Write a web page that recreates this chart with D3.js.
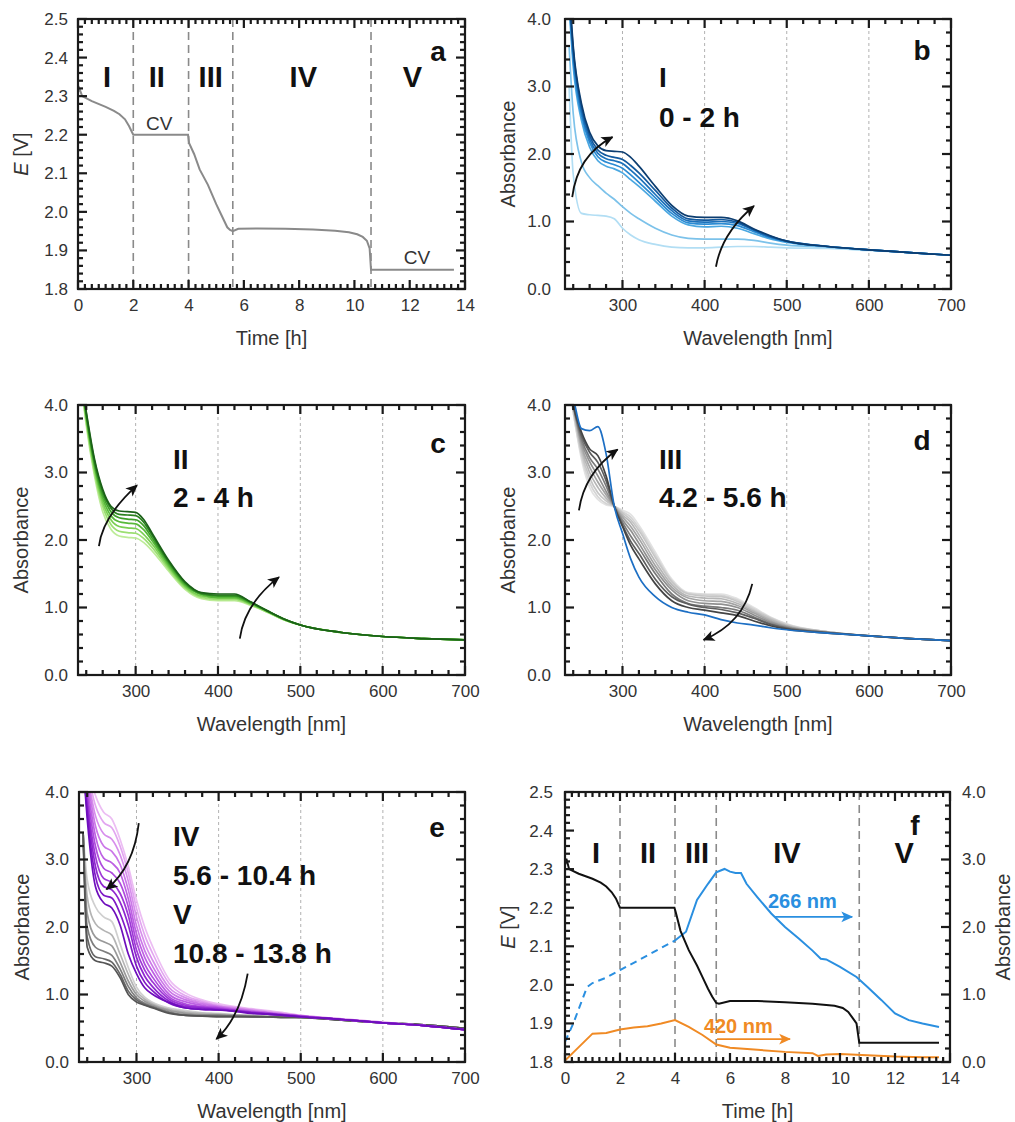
<!DOCTYPE html>
<html>
<head>
<meta charset="utf-8">
<script src="https://d3js.org/d3.v7.min.js"></script>
<style>
  body { margin: 0; background: #fff; }
  text { font-family: "Liberation Sans", Arial, sans-serif; }
</style>
</head>
<body>
<script>
// ---------------------------------------------------------------- data
// panel a / f : potential vs time
const tA = [0, 0.05, 0.15, 0.5, 1.0, 1.3, 1.5, 1.7, 1.85, 1.95, 2.0, 3.0, 3.98, 4.02, 4.2, 4.4, 4.7, 5.0, 5.2, 5.4, 5.5, 5.6, 5.8, 6.5, 7.5, 8.5, 9.3, 9.8, 10.1, 10.3, 10.45, 10.55, 10.6, 11.5, 12.5, 13.6];
const eA = [2.31, 2.32, 2.30, 2.287, 2.272, 2.262, 2.253, 2.24, 2.222, 2.207, 2.20, 2.20, 2.20, 2.178, 2.15, 2.11, 2.07, 2.02, 1.99, 1.96, 1.953, 1.95, 1.956, 1.957, 1.956, 1.954, 1.951, 1.947, 1.942, 1.935, 1.925, 1.905, 1.85, 1.85, 1.85, 1.85];
const stepsA = [2, 4, 5.6, 10.6];

const tF = [0, 0.05, 0.15, 0.5, 1.0, 1.3, 1.5, 1.7, 1.85, 1.95, 2.0, 3.0, 3.98, 4.02, 4.2, 4.5, 4.8, 5.0, 5.2, 5.35, 5.5, 5.6, 6.0, 7.0, 8.0, 9.0, 9.8, 10.1, 10.3, 10.45, 10.6, 10.7, 11.5, 12.5, 13.6];
const eF = [2.31, 2.327, 2.30, 2.288, 2.275, 2.265, 2.255, 2.24, 2.224, 2.208, 2.20, 2.20, 2.20, 2.19, 2.14, 2.09, 2.05, 2.02, 1.99, 1.97, 1.953, 1.951, 1.958, 1.958, 1.955, 1.951, 1.946, 1.94, 1.93, 1.915, 1.90, 1.85, 1.85, 1.85, 1.85];
const stepsF = [2, 4, 5.5, 10.7];

// absorbance at 266 nm (dashed part, then solid) and 420 nm
const t266d = [0, 0.3, 0.8, 1.0, 1.5, 2.0, 3.0, 4.0];
const a266d = [0.30, 0.57, 1.11, 1.17, 1.25, 1.36, 1.58, 1.80];
const t266 = [4.0, 4.4, 4.8, 5.2, 5.5, 5.8, 6.0, 6.2, 6.4, 6.6, 7.0, 7.5, 8.0, 8.5, 9.0, 9.3, 9.5, 10.0, 10.6, 11.0, 11.5, 12.0, 12.5, 13.0, 13.6];
const a266 = [1.80, 1.93, 2.40, 2.64, 2.81, 2.86, 2.82, 2.80, 2.80, 2.64, 2.44, 2.20, 2.00, 1.83, 1.65, 1.53, 1.52, 1.41, 1.26, 1.11, 0.92, 0.72, 0.62, 0.57, 0.52];
const t420 = [0, 0.5, 1.0, 1.5, 2.0, 2.5, 3.0, 3.5, 4.0, 4.5, 5.0, 5.5, 6.0, 7.0, 8.0, 9.0, 9.2, 9.5, 10.0, 11.0, 12.0, 13.0, 13.6];
const a420 = [0.02, 0.22, 0.42, 0.43, 0.48, 0.51, 0.53, 0.57, 0.62, 0.52, 0.40, 0.26, 0.21, 0.18, 0.15, 0.13, 0.09, 0.11, 0.12, 0.10, 0.08, 0.07, 0.07];

const stages = ["I", "II", "III", "IV", "V"];

// spectra: shared wavelength grid
const wl = [235, 240, 250, 260, 270, 280, 290, 300, 310, 320, 340, 360, 380, 400, 420, 440, 460, 480, 500, 550, 600, 650, 700];

// panel b, stage I (light -> dark)
const b1 = [3.0, 1.7, 1.12, 1.10, 1.09, 1.08, 1.04, 0.90, 0.80, 0.73, 0.66, 0.62, 0.61, 0.61, 0.62, 0.63, 0.63, 0.62, 0.61, 0.60, 0.57, 0.54, 0.50];
const b2 = [3.6, 2.6, 1.88, 1.65, 1.53, 1.42, 1.33, 1.22, 1.12, 1.04, 0.90, 0.80, 0.75, 0.74, 0.74, 0.74, 0.72, 0.68, 0.65, 0.62, 0.58, 0.54, 0.50];
const b3 = [4.2, 3.3, 2.50, 2.10, 1.90, 1.82, 1.78, 1.72, 1.62, 1.52, 1.30, 1.08, 0.95, 0.92, 0.93, 0.90, 0.82, 0.74, 0.69, 0.63, 0.58, 0.54, 0.50];
const b4 = [4.3, 3.4, 2.58, 2.17, 1.96, 1.88, 1.84, 1.79, 1.69, 1.58, 1.35, 1.12, 0.98, 0.96, 0.97, 0.94, 0.85, 0.76, 0.70, 0.63, 0.58, 0.54, 0.50];
const b5 = [4.35, 3.5, 2.64, 2.22, 2.01, 1.93, 1.90, 1.86, 1.76, 1.65, 1.40, 1.16, 1.01, 0.99, 1.00, 0.97, 0.87, 0.77, 0.71, 0.63, 0.58, 0.54, 0.50];
const b6 = [4.4, 3.55, 2.70, 2.27, 2.06, 1.98, 1.95, 1.92, 1.83, 1.72, 1.46, 1.20, 1.04, 1.02, 1.03, 0.99, 0.88, 0.78, 0.71, 0.63, 0.58, 0.54, 0.50];
const b7 = [4.5, 3.6, 2.75, 2.32, 2.12, 2.05, 2.04, 2.03, 1.95, 1.82, 1.52, 1.24, 1.08, 1.06, 1.06, 1.01, 0.89, 0.79, 0.71, 0.63, 0.58, 0.54, 0.50];

// panel c, stage II
const c1 = [4.2, 3.7, 2.95, 2.42, 2.16, 2.06, 2.04, 2.03, 1.96, 1.84, 1.54, 1.27, 1.13, 1.10, 1.10, 1.03, 0.93, 0.82, 0.74, 0.63, 0.57, 0.54, 0.52];
const c2 = [4.2, 3.75, 3.0, 2.50, 2.23, 2.13, 2.11, 2.10, 2.02, 1.89, 1.57, 1.29, 1.15, 1.12, 1.12, 1.04, 0.93, 0.82, 0.74, 0.63, 0.57, 0.54, 0.52];
const c3 = [4.25, 3.8, 3.05, 2.56, 2.30, 2.20, 2.18, 2.17, 2.08, 1.94, 1.60, 1.31, 1.17, 1.14, 1.14, 1.05, 0.94, 0.82, 0.74, 0.63, 0.57, 0.54, 0.52];
const c4 = [4.25, 3.82, 3.1, 2.62, 2.36, 2.27, 2.25, 2.24, 2.15, 1.99, 1.63, 1.33, 1.19, 1.15, 1.15, 1.06, 0.94, 0.83, 0.74, 0.63, 0.57, 0.54, 0.52];
const c5 = [4.3, 3.85, 3.13, 2.67, 2.42, 2.33, 2.31, 2.30, 2.21, 2.03, 1.66, 1.35, 1.20, 1.17, 1.17, 1.07, 0.95, 0.83, 0.74, 0.63, 0.57, 0.54, 0.52];
const c6 = [4.3, 3.88, 3.17, 2.72, 2.47, 2.38, 2.37, 2.36, 2.26, 2.07, 1.68, 1.37, 1.21, 1.18, 1.18, 1.08, 0.95, 0.83, 0.74, 0.63, 0.57, 0.54, 0.52];
const c7 = [4.3, 3.9, 3.2, 2.75, 2.50, 2.43, 2.42, 2.41, 2.30, 2.10, 1.70, 1.38, 1.22, 1.20, 1.20, 1.08, 0.95, 0.83, 0.74, 0.63, 0.57, 0.54, 0.52];

// panel d, stage III (grey light -> dark, then final blue)
const dG1 = [4.3, 3.9, 3.2, 2.78, 2.60, 2.52, 2.50, 2.44, 2.38, 2.22, 1.82, 1.42, 1.22, 1.20, 1.20, 1.13, 1.00, 0.86, 0.76, 0.64, 0.58, 0.54, 0.51];
const dG2 = [4.3, 3.9, 3.25, 2.85, 2.64, 2.54, 2.50, 2.42, 2.34, 2.18, 1.78, 1.40, 1.21, 1.19, 1.18, 1.11, 0.98, 0.85, 0.75, 0.64, 0.58, 0.54, 0.51];
const dG3 = [4.3, 3.95, 3.3, 2.92, 2.70, 2.58, 2.50, 2.40, 2.30, 2.14, 1.74, 1.38, 1.20, 1.17, 1.16, 1.09, 0.96, 0.84, 0.74, 0.64, 0.58, 0.54, 0.51];
const dG4 = [4.3, 3.95, 3.35, 3.0, 2.78, 2.62, 2.50, 2.37, 2.26, 2.08, 1.68, 1.34, 1.17, 1.14, 1.13, 1.06, 0.94, 0.82, 0.73, 0.64, 0.58, 0.54, 0.51];
const dG5 = [4.3, 4.0, 3.4, 3.08, 2.86, 2.67, 2.50, 2.34, 2.20, 2.02, 1.62, 1.30, 1.14, 1.10, 1.09, 1.03, 0.92, 0.80, 0.72, 0.63, 0.58, 0.54, 0.51];
const dG6 = [4.3, 4.0, 3.45, 3.16, 2.95, 2.72, 2.50, 2.30, 2.14, 1.95, 1.56, 1.26, 1.10, 1.06, 1.05, 1.00, 0.89, 0.78, 0.71, 0.63, 0.58, 0.54, 0.51];
const dG7 = [4.3, 4.0, 3.5, 3.22, 3.05, 2.80, 2.50, 2.26, 2.06, 1.88, 1.50, 1.20, 1.06, 1.02, 1.00, 0.96, 0.86, 0.76, 0.70, 0.63, 0.58, 0.54, 0.51];
const dG8 = [4.3, 4.0, 3.55, 3.30, 3.15, 2.88, 2.50, 2.22, 1.98, 1.80, 1.42, 1.16, 1.05, 1.00, 0.97, 0.92, 0.84, 0.75, 0.69, 0.63, 0.58, 0.54, 0.51];
const dG9 = [4.3, 4.0, 3.6, 3.35, 3.25, 2.95, 2.50, 2.20, 1.92, 1.72, 1.35, 1.10, 1.00, 0.96, 0.92, 0.88, 0.80, 0.73, 0.68, 0.62, 0.58, 0.54, 0.51];
const dBlue = [4.3, 4.1, 3.65, 3.62, 3.68, 3.28, 2.50, 2.10, 1.72, 1.45, 1.16, 1.00, 0.93, 0.89, 0.82, 0.77, 0.74, 0.70, 0.67, 0.62, 0.58, 0.54, 0.51];

// panel e, stage IV (purple light -> dark) and stage V (grey light -> dark)
const ep1 = [4.5, 4.4, 3.95, 3.70, 3.60, 3.30, 2.90, 2.40, 2.00, 1.70, 1.22, 1.02, 0.92, 0.86, 0.82, 0.79, 0.76, 0.73, 0.69, 0.64, 0.59, 0.54, 0.48];
const ep2 = [4.5, 4.3, 3.8, 3.55, 3.47, 3.20, 2.80, 2.28, 1.88, 1.60, 1.16, 0.98, 0.90, 0.84, 0.81, 0.78, 0.75, 0.72, 0.69, 0.64, 0.59, 0.54, 0.48];
const ep3 = [4.5, 4.25, 3.65, 3.38, 3.30, 3.07, 2.68, 2.15, 1.76, 1.50, 1.10, 0.95, 0.88, 0.83, 0.80, 0.77, 0.74, 0.71, 0.68, 0.63, 0.58, 0.54, 0.48];
const ep4 = [4.5, 4.2, 3.5, 3.20, 3.12, 2.93, 2.55, 2.02, 1.65, 1.41, 1.05, 0.92, 0.86, 0.82, 0.79, 0.76, 0.73, 0.71, 0.68, 0.63, 0.58, 0.54, 0.48];
const ep5 = [4.5, 4.1, 3.35, 3.02, 2.95, 2.80, 2.42, 1.90, 1.55, 1.33, 1.00, 0.89, 0.84, 0.81, 0.78, 0.75, 0.73, 0.70, 0.68, 0.63, 0.58, 0.54, 0.48];
const ep6 = [4.5, 4.0, 3.2, 2.87, 2.80, 2.65, 2.30, 1.78, 1.45, 1.25, 0.96, 0.86, 0.82, 0.80, 0.77, 0.74, 0.72, 0.70, 0.68, 0.63, 0.58, 0.54, 0.48];
const ep7 = [4.5, 3.9, 3.05, 2.72, 2.66, 2.50, 2.17, 1.66, 1.36, 1.18, 0.93, 0.84, 0.81, 0.79, 0.76, 0.74, 0.72, 0.70, 0.68, 0.63, 0.58, 0.54, 0.48];
const ep8 = [4.4, 3.8, 2.9, 2.60, 2.55, 2.37, 2.03, 1.55, 1.27, 1.11, 0.90, 0.82, 0.80, 0.78, 0.76, 0.73, 0.71, 0.69, 0.67, 0.63, 0.58, 0.54, 0.48];
const ep9 = [4.4, 3.7, 2.75, 2.47, 2.43, 2.20, 1.85, 1.42, 1.18, 1.05, 0.87, 0.80, 0.78, 0.77, 0.75, 0.73, 0.71, 0.69, 0.67, 0.63, 0.58, 0.54, 0.48];
const ep10 = [4.4, 3.6, 2.6, 2.36, 2.28, 2.03, 1.60, 1.31, 1.10, 1.00, 0.88, 0.80, 0.78, 0.77, 0.75, 0.72, 0.71, 0.69, 0.67, 0.63, 0.58, 0.54, 0.48];
const eg1 = [3.4, 2.7, 2.30, 2.15, 2.08, 1.75, 1.40, 1.11, 0.96, 0.88, 0.80, 0.76, 0.73, 0.72, 0.70, 0.69, 0.68, 0.67, 0.66, 0.62, 0.58, 0.55, 0.50];
const eg2 = [3.4, 2.45, 2.05, 1.95, 1.88, 1.60, 1.30, 1.05, 0.93, 0.86, 0.78, 0.74, 0.72, 0.71, 0.70, 0.69, 0.68, 0.67, 0.66, 0.62, 0.58, 0.55, 0.50];
const eg3 = [3.4, 2.2, 1.85, 1.78, 1.72, 1.48, 1.20, 1.00, 0.90, 0.84, 0.76, 0.72, 0.70, 0.70, 0.69, 0.68, 0.67, 0.67, 0.66, 0.62, 0.58, 0.55, 0.50];
const eg4 = [3.4, 2.0, 1.70, 1.64, 1.58, 1.38, 1.12, 0.95, 0.87, 0.82, 0.74, 0.70, 0.69, 0.69, 0.68, 0.68, 0.67, 0.66, 0.66, 0.62, 0.58, 0.55, 0.50];
const eg5 = [3.4, 1.85, 1.56, 1.53, 1.48, 1.30, 1.05, 0.92, 0.85, 0.81, 0.73, 0.69, 0.68, 0.68, 0.68, 0.67, 0.67, 0.66, 0.66, 0.62, 0.58, 0.55, 0.50];
const eg6 = [3.4, 1.7, 1.50, 1.47, 1.42, 1.25, 1.00, 0.89, 0.84, 0.80, 0.72, 0.69, 0.68, 0.67, 0.67, 0.67, 0.67, 0.66, 0.66, 0.62, 0.58, 0.55, 0.50];

// tick labels
const timeTicks = [0, 2, 4, 6, 8, 10, 12, 14];
const eTicks = [1.8, 1.9, 2.0, 2.1, 2.2, 2.3, 2.4, 2.5];
const wlTicks = [300, 400, 500, 600, 700];
const absTicks = [0, 1, 2, 3, 4];

// ---------------------------------------------------------------- drawing
const svg = d3.select("body").append("svg").attr("width", 1015).attr("height", 1122);
const defs = svg.append("defs");

function marker(id, color) {
  defs.append("marker").attr("id", id)
    .attr("viewBox", "0 0 10 10").attr("refX", 9).attr("refY", 5)
    .attr("markerUnits", "userSpaceOnUse")
    .attr("markerWidth", 12).attr("markerHeight", 12)
    .attr("orient", "auto")
    .append("path").attr("d", "M0,0.5L10,5L0,9.5L2.5,5Z").attr("fill", color);
}
marker("ahK", "#111");
marker("ahB", "#2a8fe0");
marker("ahO", "#f08a24");

let nClip = 0;
function makePanel(box, xDom, yDom) {
  const x = d3.scaleLinear().domain(xDom).range([box.x0, box.x1]);
  const y = d3.scaleLinear().domain(yDom).range([box.y1, box.y0]);
  const id = "clip" + nClip++;
  defs.append("clipPath").attr("id", id).append("rect")
    .attr("x", box.x0).attr("y", box.y0)
    .attr("width", box.x1 - box.x0).attr("height", box.y1 - box.y0);
  const g = svg.append("g");
  const under = g.append("g");
  const plot = g.append("g").attr("clip-path", `url(#${id})`);
  return { x, y, box, g, under, plot };
}

function minors(lo, hi, step, majors) {
  return d3.range(lo, hi + step / 2, step)
    .map(v => +v.toFixed(4))
    .filter(v => !majors.some(m => Math.abs(m - v) < 1e-6));
}

// inward tick marks along one side of the frame, drawn as small filled rects
function tickMarks(g, box, side, scale, vals, len) {
  const w = 2.2;
  const horiz = side === "bottom" || side === "top";
  g.append("g").selectAll("rect").data(vals).join("rect")
    .attr("x", d => horiz ? scale(d) - w / 2 : (side === "left" ? box.x0 : box.x1 - len))
    .attr("y", d => horiz ? (side === "top" ? box.y0 : box.y1 - len) : scale(d) - w / 2)
    .attr("width", horiz ? w : len)
    .attr("height", horiz ? len : w)
    .attr("fill", "#1a1a1a");
}

function axes(p, o) {
  const { x, y, box, g } = p;
  const ag = g.append("g");
  const add = (axis, tr) => ag.append("g").attr("transform", tr).call(axis)
    .call(s => s.select(".domain").remove())
    .call(s => s.selectAll(".tick line").remove())
    .attr("font-family", null).attr("font-size", null);
  const xMin = minors(o.xLo, x.domain()[1], o.xStep, o.xMajor);
  const yMin = minors(y.domain()[0], y.domain()[1], o.yStep, o.yMajor);
  const MJ = 9, MN = 5;

  add(d3.axisBottom(x).tickValues(o.xMajor).tickSize(0).tickPadding(10).tickFormat(o.xFmt), `translate(0,${box.y1})`);
  add(d3.axisLeft(y).tickValues(o.yMajor).tickSize(0).tickPadding(o.yPad).tickFormat(o.yFmt), `translate(${box.x0},0)`);
  if (o.right) {
    add(d3.axisRight(o.right.scale).tickValues(o.right.major).tickSize(0).tickPadding(12).tickFormat(o.right.fmt), `translate(${box.x1},0)`);
  }
  ag.selectAll(".tick text").attr("font-size", 17).attr("fill", "#333");

  g.append("rect").attr("x", box.x0).attr("y", box.y0)
    .attr("width", box.x1 - box.x0).attr("height", box.y1 - box.y0)
    .attr("fill", "none").attr("stroke", "#1a1a1a").attr("stroke-width", 2.2);

  // tick marks on all four sides
  const tg = g.append("g");
  tickMarks(tg, box, "bottom", x, o.xMajor, MJ);
  tickMarks(tg, box, "bottom", x, xMin, MN);
  tickMarks(tg, box, "top", x, o.xMajor, MJ);
  tickMarks(tg, box, "top", x, xMin, MN);
  tickMarks(tg, box, "left", y, o.yMajor, MJ);
  tickMarks(tg, box, "left", y, yMin, MN);
  if (o.right) {
    const r = o.right;
    const rMin = minors(r.scale.domain()[0], r.scale.domain()[1], r.step, r.major);
    tickMarks(tg, box, "right", r.scale, r.major, MJ);
    tickMarks(tg, box, "right", r.scale, rMin, MN);
  } else {
    tickMarks(tg, box, "right", y, o.yMajor, MJ);
    tickMarks(tg, box, "right", y, yMin, MN);
  }

  // axis titles
  g.append("text").attr("x", (box.x0 + box.x1) / 2).attr("y", box.y1 + 56)
    .attr("text-anchor", "middle").attr("font-size", 20).attr("fill", "#333").text(o.xTitle);
  const yt = g.append("text")
    .attr("transform", `translate(${box.x0 - 57},${(box.y0 + box.y1) / 2}) rotate(-90)`)
    .attr("text-anchor", "middle").attr("dominant-baseline", "central")
    .attr("font-size", 20).attr("fill", "#333");
  if (o.yTitle === "E") {
    yt.append("tspan").attr("font-style", "italic").text("E");
    yt.append("tspan").text(" [V]");
  } else yt.text(o.yTitle);
  if (o.right) {
    g.append("text")
      .attr("transform", `translate(${box.x1 + 53},${(box.y0 + box.y1) / 2}) rotate(-90)`)
      .attr("text-anchor", "middle").attr("dominant-baseline", "central")
      .attr("font-size", 20).attr("fill", "#333").text(o.right.title);
  }
}

function label(p, dx, dy, txt, opt = {}) {
  p.g.append("text").attr("x", p.box.x0 + dx).attr("y", p.box.y0 + dy)
    .attr("text-anchor", opt.anchor || "start")
    .attr("font-size", opt.size || 28).attr("font-weight", opt.weight || "bold")
    .attr("fill", opt.color || "#111").text(txt);
}

function curvedArrow(p, pts, id = "ahK", color = "#111") {
  const q = pts.map(d => [p.x(d[0]), p.y(d[1])]);
  const d = q.length === 3 ? `M${q[0]}Q${q[1]} ${q[2]}` : `M${q[0]}L${q[1]}`;
  p.g.append("path").attr("d", d).attr("fill", "none")
    .attr("stroke", color).attr("stroke-width", 1.8)
    .attr("marker-end", `url(#${id})`);
}

const lineT = (xs, ys, p, yScale) => d3.line()
  .x(i => p.x(xs[i])).y(i => yScale(ys[i]))(d3.range(xs.length));

// ---------------- time panels (a, f)
const stageDash = (p, steps) => p.under.selectAll(null).data(steps).join("line")
  .attr("x1", d => p.x(d)).attr("x2", d => p.x(d))
  .attr("y1", p.box.y0).attr("y2", p.box.y1)
  .attr("stroke", "#8a8a8a").attr("stroke-width", 1.6).attr("stroke-dasharray", "8,5");

const timeAxes = {
  xMajor: timeTicks, xLo: 0, xStep: 0.25, xFmt: d3.format("d"),
  yMajor: eTicks, yStep: 0.02, yFmt: d3.format(".1f"),
  xTitle: "Time [h]", yTitle: "E"
};

// panel a
const pa = makePanel({ x0: 78, x1: 465, y0: 19, y1: 289 }, [0, 14], [1.8, 2.5]);
stageDash(pa, stepsA);
pa.plot.append("path").attr("d", lineT(tA, eA, pa, pa.y))
  .attr("fill", "none").attr("stroke", "#8a8a8a").attr("stroke-width", 2);
axes(pa, { ...timeAxes, yPad: 10 });
[1.05, 2.85, 4.8, 8.15, 12.1].forEach((t, i) =>
  pa.g.append("text").attr("x", pa.x(t)).attr("y", pa.box.y0 + 68)
    .attr("text-anchor", "middle").attr("font-size", 29).attr("font-weight", "bold")
    .attr("fill", "#111").text(stages[i]));
pa.g.append("text").attr("x", pa.x(2.94)).attr("y", pa.y(2.213)).attr("text-anchor", "middle")
  .attr("font-size", 19).attr("fill", "#333").text("CV");
pa.g.append("text").attr("x", pa.x(12.26)).attr("y", pa.y(1.866)).attr("text-anchor", "middle")
  .attr("font-size", 19).attr("fill", "#333").text("CV");
label(pa, 360, 42, "a", { anchor: "middle" });

// panel f
const pf = makePanel({ x0: 565, x1: 950, y0: 792, y1: 1062 }, [0, 14], [1.8, 2.5]);
const yAbsF = d3.scaleLinear().domain([0, 4]).range([1062, 792]);
stageDash(pf, stepsF);
pf.plot.append("path").attr("d", lineT(t420, a420, pf, yAbsF))
  .attr("fill", "none").attr("stroke", "#f08a24").attr("stroke-width", 2);
pf.plot.append("path").attr("d", lineT(t266d, a266d, pf, yAbsF))
  .attr("fill", "none").attr("stroke", "#2a8fe0").attr("stroke-width", 2).attr("stroke-dasharray", "7,5");
pf.plot.append("path").attr("d", lineT(t266, a266, pf, yAbsF))
  .attr("fill", "none").attr("stroke", "#2a8fe0").attr("stroke-width", 2);
pf.plot.append("path").attr("d", lineT(tF, eF, pf, pf.y))
  .attr("fill", "none").attr("stroke", "#111").attr("stroke-width", 2);
axes(pf, {
  ...timeAxes, yPad: 12,
  right: { scale: yAbsF, major: absTicks, step: 0.2, fmt: d3.format(".1f"), title: "Absorbance" }
});
[1.13, 3.02, 4.8, 8.07, 12.33].forEach((t, i) =>
  pf.g.append("text").attr("x", pf.x(t)).attr("y", pf.box.y0 + 71)
    .attr("text-anchor", "middle").attr("font-size", 29).attr("font-weight", "bold")
    .attr("fill", "#111").text(stages[i]));
label(pf, 350, 43, "f", { anchor: "middle" });
const pfAbs = { ...pf, y: yAbsF };
pf.g.append("text").attr("x", pf.x(7.38)).attr("y", yAbsF(2.28))
  .attr("font-size", 20).attr("font-weight", "bold").attr("fill", "#2a8fe0").text("266 nm");
curvedArrow(pfAbs, [[7.64, 2.15], [10.44, 2.15]], "ahB", "#2a8fe0");
pf.g.append("text").attr("x", pf.x(5.05)).attr("y", yAbsF(0.43))
  .attr("font-size", 20).attr("font-weight", "bold").attr("fill", "#f08a24").text("420 nm");
curvedArrow(pfAbs, [[5.53, 0.34], [8.18, 0.34]], "ahO", "#f08a24");

// ---------------- spectra panels (b, c, d, e)
const spectraAxes = {
  xMajor: wlTicks, xLo: 240, xStep: 20, xFmt: d3.format("d"),
  yMajor: absTicks, yStep: 0.2, yFmt: d3.format(".1f"),
  xTitle: "Wavelength [nm]", yTitle: "Absorbance"
};
const lineS = p => d3.line().curve(d3.curveMonotoneX)
  .x((v, i) => p.x(wl[i])).y(v => p.y(v));

function spectra(box, series, colors, yPad) {
  const p = makePanel(box, [230, 700], [0, 4]);
  p.under.selectAll(null).data([300, 400, 500, 600]).join("line")
    .attr("x1", d => p.x(d)).attr("x2", d => p.x(d))
    .attr("y1", box.y0).attr("y2", box.y1)
    .attr("stroke", "#a8a8a8").attr("stroke-width", 0.9).attr("stroke-dasharray", "3,3");
  p.plot.selectAll(null).data(series).join("path")
    .attr("d", lineS(p)).attr("fill", "none")
    .attr("stroke", (d, i) => colors[i]).attr("stroke-width", 1.7);
  axes(p, { ...spectraAxes, yPad });
  return p;
}

// b
const pb = spectra({ x0: 565, x1: 951, y0: 19, y1: 289 }, [b1, b2, b3, b4, b5, b6, b7],
  ["#b2def4", "#7cc2ea", "#4aa7e1", "#2b8bd3", "#1b71bb", "#12599e", "#0c3d70"], 14);
label(pb, 94, 68, "I");
label(pb, 94, 108, "0 - 2 h");
label(pb, 357, 41, "b", { anchor: "middle" });
curvedArrow(pb, [[238.8, 1.36], [245, 1.98], [287.8, 2.25]]);
curvedArrow(pb, [[413.8, 0.33], [421, 0.83], [460, 1.23]]);

// c
const pc = spectra({ x0: 78, x1: 465, y0: 405, y1: 675 }, [c1, c2, c3, c4, c5, c6, c7],
  ["#bdec98", "#9cdf72", "#7acf52", "#58b93a", "#3d9f28", "#2a821e", "#1b6118"], 10);
label(pc, 95, 64, "II");
label(pc, 95, 102, "2 - 4 h");
label(pc, 360, 48, "c", { anchor: "middle" });
curvedArrow(pc, [[255.4, 1.91], [260, 2.35], [301.6, 2.81]]);
curvedArrow(pc, [[426.5, 0.54], [432.6, 1.06], [474, 1.45]]);

// d
const pd = spectra({ x0: 565, x1: 951, y0: 405, y1: 675 }, [dG1, dG2, dG3, dG4, dG5, dG6, dG7, dG8, dG9, dBlue],
  ["#e2e2e2", "#d4d4d4", "#c6c6c6", "#b6b6b6", "#a4a4a4", "#909090", "#7a7a7a", "#5e5e5e", "#444444", "#1d6fc4"], 14);
label(pd, 94, 64, "III");
label(pd, 94, 102, "4.2 - 5.6 h");
label(pd, 357, 45, "d", { anchor: "middle" });
curvedArrow(pd, [[247, 2.44], [253.5, 2.99], [294, 3.34]]);
curvedArrow(pd, [[458, 1.35], [447, 0.77], [398.8, 0.52]]);

// e
const pe = spectra({ x0: 79, x1: 465, y0: 792, y1: 1062 },
  [eg1, eg2, eg3, eg4, eg5, eg6, ep1, ep2, ep3, ep4, ep5, ep6, ep7, ep8, ep9, ep10],
  ["#cfcfcf", "#b4b4b4", "#999999", "#7e7e7e", "#666666", "#555555",
   "#ecbdf3", "#e2a6f0", "#d78eec", "#cb77e8", "#bd60e3", "#ae4bdd", "#9e37d6", "#8e26cf", "#7e18c6", "#6e0ebc"], 10);
label(pe, 94, 54, "IV");
label(pe, 94, 93, "5.6 - 10.4 h");
label(pe, 94, 132, "V");
label(pe, 94, 171, "10.8 - 13.8 h");
label(pe, 358, 45, "e", { anchor: "middle" });
curvedArrow(pe, [[302.8, 3.54], [296.7, 2.89], [263.5, 2.56]]);
curvedArrow(pe, [[435.4, 1.31], [426.5, 0.67], [397.3, 0.34]]);
</script>
</body>
</html>
